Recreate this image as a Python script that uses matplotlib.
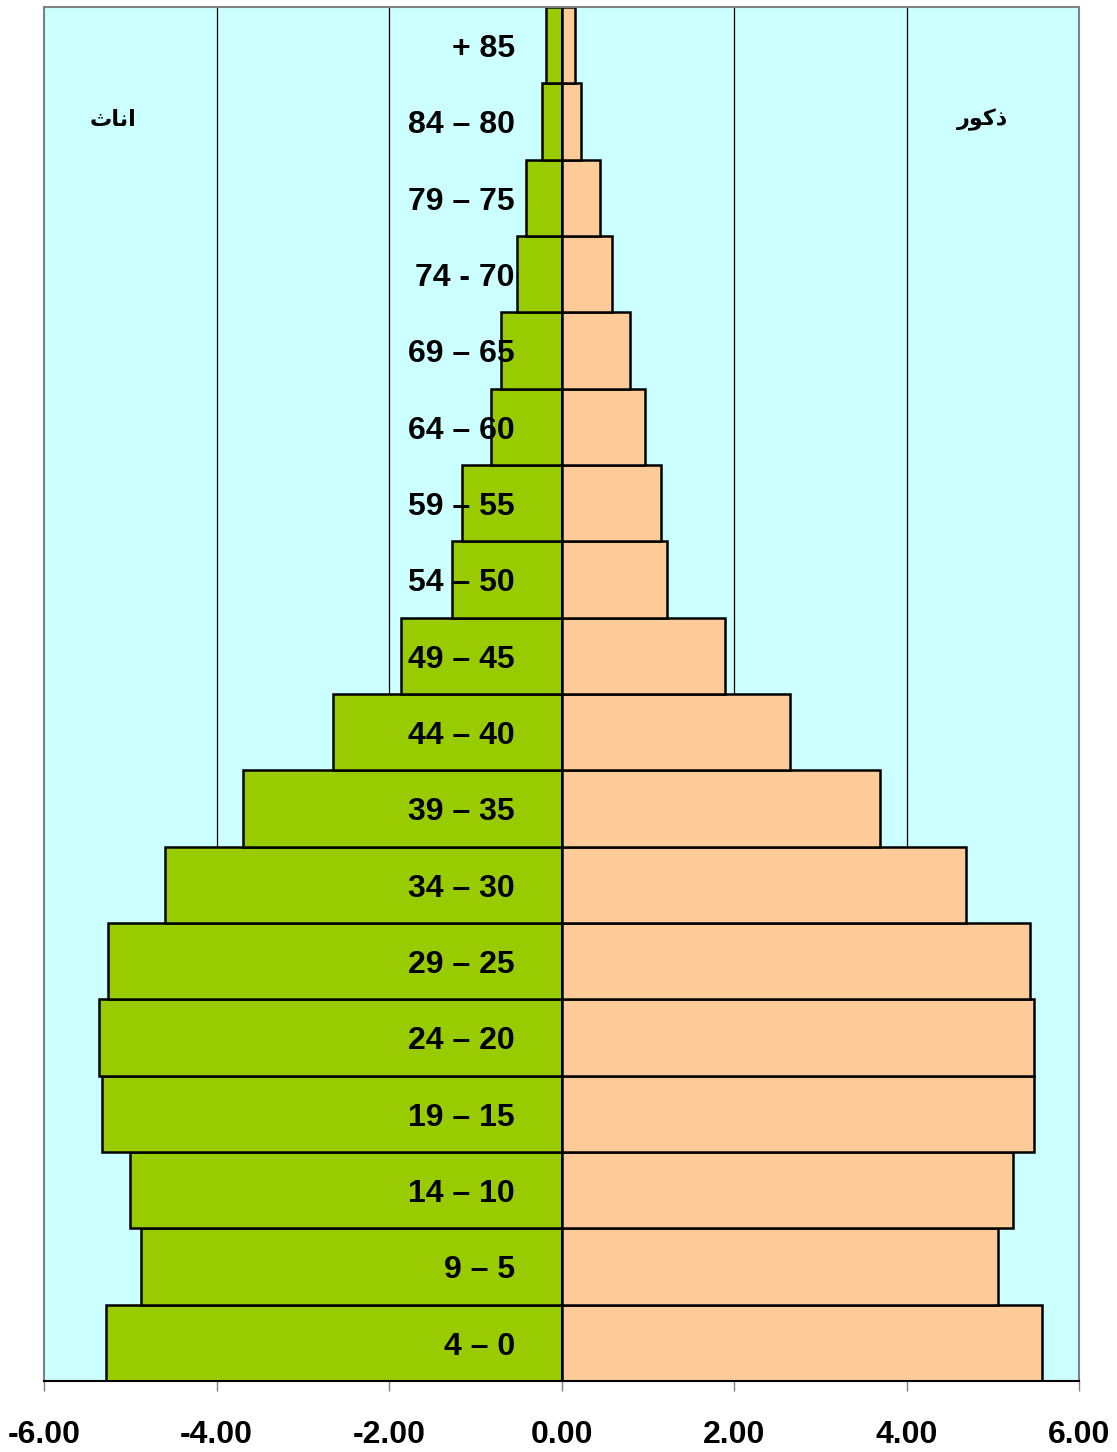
import matplotlib.pyplot as plt

# age groups, bottom to top
age_labels = ['4 – 0', '9 – 5', '14 – 10', '19 – 15', '24 – 20', '29 – 25',
              '34 – 30', '39 – 35', '44 – 40', '49 – 45', '54 – 50', '59 – 55',
              '64 – 60', '69 – 65', '74 - 70', '79 – 75', '84 – 80', '+ 85']
females = [-5.28, -4.88, -5.00, -5.33, -5.36, -5.26, -4.60, -3.69, -2.65,
           -1.86, -1.27, -1.15, -0.82, -0.70, -0.52, -0.41, -0.23, -0.18]
males = [5.57, 5.06, 5.23, 5.48, 5.48, 5.43, 4.69, 3.69, 2.65,
         1.90, 1.22, 1.15, 0.97, 0.79, 0.59, 0.45, 0.23, 0.16]
x_ticks = [-6, -4, -2, 0, 2, 4, 6]

# Arabic words written in presentation forms, visual order (matplotlib has no shaping)
label_female = '\uFE99\uFE8E\uFEE7\uFE8D'   # اناث
label_male = '\uFEAD\uFEEE\uFEDB\uFEAB'     # ذكور

fig = plt.figure(figsize=(11.17, 14.52), dpi=100)
ax = fig.add_axes([0.0394, 0.0489, 0.9266, 0.9463])
ax.set_facecolor('#CCFFFF')

pos = range(len(age_labels))
for x in [-4, -2, 2, 4]:
    ax.axvline(x, color='black', lw=0.9, zorder=1)

ax.barh(pos, females, height=1.0, color='#99CC00', edgecolor='black', lw=1.8, zorder=2)
ax.barh(pos, males, height=1.0, color='#FFCC99', edgecolor='black', lw=1.8, zorder=2)

for i, lab in enumerate(age_labels):
    ax.text(-0.54, i - 0.05, lab, ha='right', va='center', fontsize=23,
            fontweight='bold', family='Liberation Sans', zorder=3)

ax.text(-5.2, 16.02, label_female, ha='center', va='center', fontsize=16,
        fontweight='bold', family='DejaVu Sans')
ax.text(4.88, 16.02, label_male, ha='center', va='center', fontsize=16,
        fontweight='bold', family='DejaVu Sans')

ax.set_xlim(-6, 6)
ax.set_ylim(-0.5, len(age_labels) - 0.5)
ax.set_xticks(x_ticks)
ax.set_xticklabels(['%.2f' % v for v in x_ticks], fontsize=23,
                   fontweight='bold', family='Liberation Sans')
ax.set_yticks([])
ax.tick_params(axis='x', length=7, width=1, color='#808080', pad=21)

for s in ['top', 'right', 'left']:
    ax.spines[s].set_color('#808080')
    ax.spines[s].set_linewidth(1.5)
ax.spines['bottom'].set_color('black')
ax.spines['bottom'].set_linewidth(1.5)

fig.savefig('out.png', dpi=100)
